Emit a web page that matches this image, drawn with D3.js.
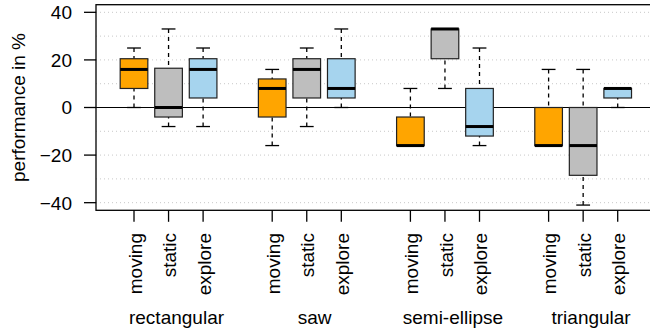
<!DOCTYPE html>
<meta charset="utf-8">
<style>
body { margin: 0; padding: 0; background: #fff; }
svg { display: block; font-family: "Liberation Sans", Arial, sans-serif; }
.grid line { stroke: #c8c8c8; stroke-width: 1; stroke-dasharray: 1,3; }
.zero { stroke: #000; stroke-width: 1; }
.frame { fill: none; stroke: #000; stroke-width: 1.3; }
.box { stroke: #222; stroke-width: 1.2; }
.whisker { stroke: #000; stroke-width: 1.3; stroke-dasharray: 4,4; }
.staple { stroke: #000; stroke-width: 1.3; }
.median { stroke: #000; stroke-width: 3; }
.tick line { stroke: #000; stroke-width: 1.3; }
.label { font-size: 19px; fill: #000; }
</style>
<body>
<div id="chart"></div>
<script src="https://cdn.jsdelivr.net/npm/d3@7"></script>
<script>
var groups = ["rectangular", "saw", "semi-ellipse", "triangular"];
var methods = ["moving", "static", "explore"];
var methodColors = ["#ffa500", "#bebebe", "#a6d4ee"];
var yTicks = [-40, -20, 0, 20, 40];
var gridValues = [-40, -30, -20, -10, 10, 20, 30, 40];

// one value per box, in order group by group: moving, static, explore
var whiskerLow  = [0, -8, -8,        -16, -8, 0,       -16, 8, -16,       -16, -41, 0];
var boxLow      = [8, -4, 4,         -4, 4, 4,         -16, 20.5, -12,    -16, -28.5, 4];
var medians     = [16, 0, 16,        8, 16, 8,         -16, 33, -8,       -16, -16, 8];
var boxHigh     = [20.5, 16.5, 20.5, 12, 20.5, 20.5,   -4, 33, 8,         0, 0, 8];
var whiskerHigh = [25, 33, 25,       16, 25, 33,       8, 33, 25,         16, 16, 8];

var width = 650, height = 334;
var plotLeft = 96, plotTop = 4.7, plotBottom = 210.3;

var boxes = [];
groups.forEach(function(g, gi) {
	methods.forEach(function(m, mi) {
		var i = gi * methods.length + mi;
		boxes.push({
			group: g, method: m, color: methodColors[mi],
			pos: gi * 4 + mi + 1,
			lo: whiskerLow[i], q1: boxLow[i], med: medians[i], q3: boxHigh[i], hi: whiskerHigh[i]
		});
	});
});

// R style: xlim 0.5..15.5 and ylim -40..40, each widened by 4%
var x = d3.scaleLinear().domain([-0.1, 16.1]).range([plotLeft, plotLeft + 16.2 * 34.55]);
var y = d3.scaleLinear().domain([-43.2, 43.2]).range([plotBottom, plotTop]);
var halfBox = x(0.4) - x(0);

var svg = d3.select("#chart").append("svg")
	.attr("width", width)
	.attr("height", height);

// dotted grid
svg.append("g").attr("class", "grid")
	.selectAll("line").data(gridValues).enter().append("line")
	.attr("x1", plotLeft).attr("x2", width)
	.attr("y1", function(d) { return y(d); })
	.attr("y2", function(d) { return y(d); });

svg.append("line").attr("class", "zero")
	.attr("x1", plotLeft).attr("x2", width)
	.attr("y1", y(0)).attr("y2", y(0));

var b = svg.append("g").selectAll("g").data(boxes).enter().append("g");

b.append("line").attr("class", "whisker")
	.attr("x1", function(d) { return x(d.pos); }).attr("x2", function(d) { return x(d.pos); })
	.attr("y1", function(d) { return y(d.lo); }).attr("y2", function(d) { return y(d.q1); });
b.append("line").attr("class", "whisker")
	.attr("x1", function(d) { return x(d.pos); }).attr("x2", function(d) { return x(d.pos); })
	.attr("y1", function(d) { return y(d.hi); }).attr("y2", function(d) { return y(d.q3); });

["lo", "hi"].forEach(function(k) {
	b.append("line").attr("class", "staple")
		.attr("x1", function(d) { return x(d.pos) - halfBox / 2; })
		.attr("x2", function(d) { return x(d.pos) + halfBox / 2; })
		.attr("y1", function(d) { return y(d[k]); })
		.attr("y2", function(d) { return y(d[k]); });
});

b.append("rect").attr("class", "box")
	.attr("x", function(d) { return x(d.pos) - halfBox; })
	.attr("width", halfBox * 2)
	.attr("y", function(d) { return y(d.q3); })
	.attr("height", function(d) { return y(d.q1) - y(d.q3); })
	.attr("fill", function(d) { return d.color; });

b.append("line").attr("class", "median")
	.attr("x1", function(d) { return x(d.pos) - halfBox; })
	.attr("x2", function(d) { return x(d.pos) + halfBox; })
	.attr("y1", function(d) { return y(d.med); })
	.attr("y2", function(d) { return y(d.med); });

// frame
svg.append("rect").attr("class", "frame")
	.attr("x", plotLeft).attr("y", plotTop)
	.attr("width", width + 20 - plotLeft).attr("height", plotBottom - plotTop);

// y axis
var yt = svg.append("g").selectAll("g").data(yTicks).enter().append("g").attr("class", "tick");
yt.append("line").attr("x1", plotLeft - 12).attr("x2", plotLeft)
	.attr("y1", function(d) { return y(d); }).attr("y2", function(d) { return y(d); });
yt.append("text").attr("class", "label")
	.attr("x", plotLeft - 24).attr("y", function(d) { return y(d); })
	.attr("dy", "0.36em").attr("text-anchor", "end")
	.text(function(d) { return d < 0 ? "\u2212" + Math.abs(d) : d; });

svg.append("text").attr("class", "label")
	.attr("transform", "translate(" + 25 + "," + y(0) + ") rotate(-90)")
	.attr("text-anchor", "middle")
	.text("performance in %");

// x axis
var xt = svg.append("g").selectAll("g").data(boxes).enter().append("g").attr("class", "tick");
xt.append("line")
	.attr("x1", function(d) { return x(d.pos); }).attr("x2", function(d) { return x(d.pos); })
	.attr("y1", plotBottom).attr("y2", plotBottom + 11.5);
xt.append("text").attr("class", "label")
	.attr("transform", function(d) { return "translate(" + (x(d.pos) + 1) + "," + 233 + ") rotate(-90)"; })
	.attr("text-anchor", "end").attr("dy", "0.35em")
	.text(function(d) { return d.method; });

svg.append("g").selectAll("text").data(groups).enter().append("text")
	.attr("class", "label")
	.attr("x", function(d, i) { return x(i * 4 + 2.23); })
	.attr("y", 324)
	.attr("text-anchor", "middle")
	.text(function(d) { return d; });
</script>
</body>
